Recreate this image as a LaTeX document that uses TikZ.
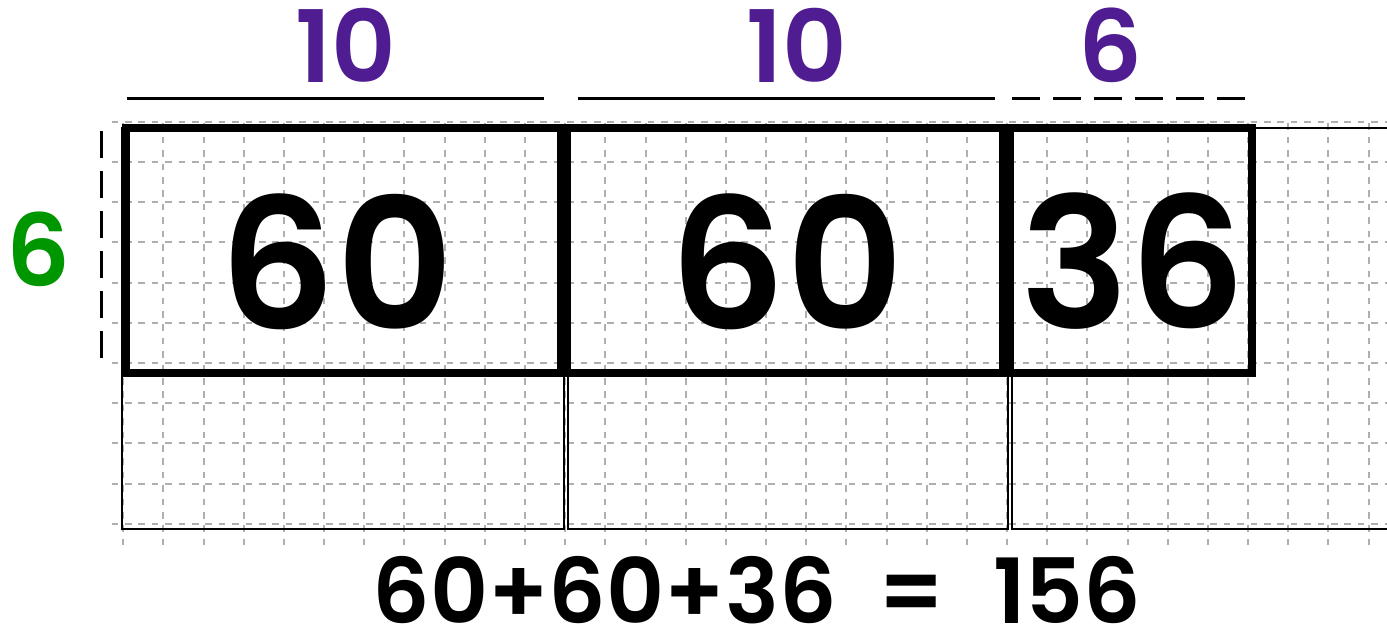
\documentclass[tikz,border=0pt]{standalone}
\usepackage{fontspec}
\newfontfamily\cfont{Poppins}[UprightFont={* Medium}, BoldFont={* SemiBold}]
\definecolor{lblpurple}{RGB}{80,28,145}
\definecolor{lblgreen}{RGB}{0,150,0}
\definecolor{gridgray}{RGB}{175,175,175}
\tikzset{
  gridline/.style={draw=gridgray, line width=2pt, dash pattern=on 6.7pt off 6.7pt},
  thinframe/.style={draw=black, line width=2pt},
  thickbox/.style={draw=black, line width=8pt},
  dimsolid/.style={draw=black, line width=3pt},
  dimdash/.style={draw=black, line width=3pt, dash pattern=on 28pt off 13pt},
  dimdashv/.style={draw=black, line width=3pt, dash pattern=on 27pt off 13pt},
  toplabel/.style={text=lblpurple, font=\cfont\bfseries\fontsize{100}{110}\selectfont, inner sep=0pt},
  sidelabel/.style={text=lblgreen, font=\cfont\bfseries\fontsize{100}{110}\selectfont, inner sep=0pt},
  bignum/.style={text=black, font=\cfont\bfseries\fontsize{182}{200}\selectfont, inner sep=0pt},
  sumtext/.style={text=black, font=\cfont\bfseries\fontsize{90}{96}\selectfont, inner sep=0pt},
}
\begin{document}
\begin{tikzpicture}[x=1pt, y=-1pt]
\useasboundingbox (0,0) rectangle (1387,637);
% grid
\foreach \k in {0,...,10} {
  \path[gridline] (111.5,{121.7+40.2*\k}) -- (1387,{121.7+40.2*\k});
}
\foreach \k in {0,...,31} {
  \path[gridline] ({123.3+40.17*\k},123.3) -- ({123.3+40.17*\k},547);
}
% thin frames
\path[thinframe] (122,128) rectangle (564,529);
\path[thinframe] (568,128) rectangle (1008,529);
\path[thinframe] (1012,128) -- (1392,128) (1392,529) -- (1012,529) -- (1012,128);
% thick boxes
\path[thickbox] (125.5,127.5) rectangle (560.5,372.5);
\path[thickbox] (567,127.5) rectangle (1003,372.5);
\path[thickbox] (1010,127.5) rectangle (1252,372.5);
% dimension lines
\coordinate (d1a) at (127,98); \coordinate (d1b) at (544,98);
\coordinate (d2a) at (578,98); \coordinate (d2b) at (995,98);
\coordinate (d3a) at (1012,98); \coordinate (d3b) at (1245,98);
\coordinate (dva) at (101,131); \coordinate (dvb) at (101,362);
\path[dimsolid] (d1a) -- (d1b);
\path[dimsolid] (d2a) -- (d2b);
\path[dimdash] (d3a) -- (d3b);
\path[dimdashv] (dva) -- (dvb);
% labels
\node[toplabel] (t1) at (346,45) {10};
\node[toplabel] (t2) at (797,45) {10};
\node[toplabel] (t3) at (1110,45) {6};
\node[sidelabel] (s1) at (38,249) {6};
\node[bignum] (n1) at (337,261.5) {60};
\node[bignum] (n2) at (787,261.5) {60};
\node[bignum] (n3) at (1133,261.5) {36};
\node[sumtext] (sum) at (757,590) {60+60+36\hspace{42pt}=\hspace{48pt}156};
\end{tikzpicture}
\end{document}
